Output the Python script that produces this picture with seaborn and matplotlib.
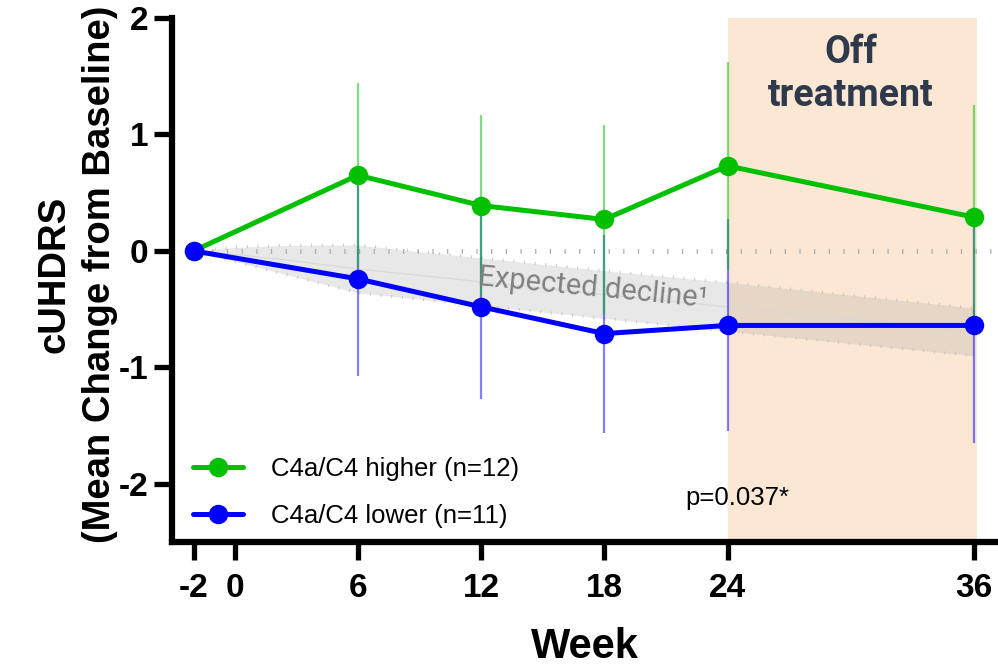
import numpy as np
import pandas as pd
import matplotlib
matplotlib.use("Agg")
import matplotlib.pyplot as plt
import seaborn as sns

# data
weeks = [-2, 6, 12, 18, 24, 36]
higher_mean = [0, 0.65, 0.39, 0.27, 0.73, 0.29]
higher_sem = [0, 0.79, 0.78, 0.81, 0.89, 0.96]
lower_mean = [0, -0.24, -0.48, -0.71, -0.64, -0.64]
lower_sem = [0, 0.83, 0.79, 0.85, 0.91, 1.01]
groups = ["C4a/C4 higher (n=12)", "C4a/C4 lower (n=11)"]

# expected decline band
decline_weeks = [-2, 0, 2, 4, 6, 12, 18, 24, 36]
decline_upper = [0, 0.03, 0.045, 0.05, 0.05, -0.06, -0.17, -0.27, -0.49]
decline_lower = [0, -0.09, -0.18, -0.27, -0.36, -0.47, -0.58, -0.69, -0.90]

xticks = [-2, 0, 6, 12, 18, 24, 36]
yticks = [-2, -1, 0, 1, 2]

df = pd.DataFrame({
    "week": weeks * 2,
    "mean": higher_mean + lower_mean,
    "sem": higher_sem + lower_sem,
    "group": [groups[0]] * len(weeks) + [groups[1]] * len(weeks),
})

sns.set_style("ticks", {"text.color": "black", "axes.labelcolor": "black",
                        "xtick.color": "black", "ytick.color": "black",
                        "axes.edgecolor": "black"})
plt.rcParams['font.family'] = ['Liberation Sans', 'DejaVu Sans']

green = "#00C000"
blue = "#0000FF"

fig = plt.figure(figsize=(9.98, 6.68), dpi=100)
ax = fig.add_axes([0.1723, 0.1886, 0.8277, 0.7844])

# off treatment shading
ax.axvspan(24, 36.15, color="#FBE7D3", zorder=0, lw=0)

# expected decline band
ax.fill_between(decline_weeks, decline_lower, decline_upper, color="#9a9a9a",
                alpha=0.22, lw=0, zorder=1)
mid = (np.array(decline_upper) + np.array(decline_lower)) / 2
ax.plot(decline_weeks, mid, color="#d8d8d8", lw=0.8, zorder=1)
for edge in (decline_upper, decline_lower):
    ax.plot(decline_weeks, edge, color="#c4c4c4", lw=2.2,
            ls=(0, (0.3, 3.2)), dash_capstyle="butt", zorder=1)

# zero reference line
ax.axhline(0, xmin=0.03, color="#aaaaaa", lw=3.5, ls=(0, (0.25, 2.77)),
           dash_capstyle="butt", zorder=1)

# error bars (blue first so the overlap turns teal)
for g, c in zip(groups[::-1], [blue, green]):
    sub = df[df["group"] == g]
    ax.errorbar(sub["week"], sub["mean"], yerr=sub["sem"], fmt="none",
                ecolor=c, alpha=0.5, elinewidth=1.6, capsize=0, zorder=2)

sns.lineplot(data=df, x="week", y="mean", hue="group", palette=[green, blue],
             marker="o", markersize=14, markeredgewidth=0, lw=3.6, ax=ax,
             zorder=3)

ax.set_xlim(-3.05, 37.17)
ax.set_ylim(-2.5, 2)
ax.set_xticks(xticks)
ax.set_yticks(yticks)
ax.set_xticklabels([str(t) for t in xticks])
ax.set_yticklabels([str(t) for t in yticks])

for s in ["top", "right"]:
    ax.spines[s].set_visible(False)
for s in ["left", "bottom"]:
    ax.spines[s].set_linewidth(4.5)
    ax.spines[s].set_color("black")
ax.tick_params(axis="both", length=13, width=3.8, color="black",
               labelcolor="black", labelsize=24)
ax.tick_params(axis="x", pad=9)
ax.tick_params(axis="y", pad=4)
for lab in ax.get_xticklabels() + ax.get_yticklabels():
    lab.set_fontweight("bold")

ax.set_xlabel("Week", fontsize=30, fontweight="bold", va="center")
ax.xaxis.set_label_coords(0.5, -0.2)
ax.set_ylabel("cUHDRS\n(Mean Change from Baseline)", fontsize=27.5,
              fontweight="bold", va="center", linespacing=1.35)
ax.yaxis.set_label_coords(-0.115, 0.51)

ax.text(30, 1.52, "Off\ntreatment", ha="center", va="center", fontsize=27,
        fontweight="bold", color="#2E3A4B", family=["Roboto", "DejaVu Sans"],
        linespacing=1.2, zorder=4)
ax.text(17.45, -0.32, "Expected decline\u00b9", ha="center", va="center",
        fontsize=21, color="#808080", rotation=-5.5,
        family=["Roboto", "DejaVu Sans"], zorder=4)
ax.text(24.5, -2.12, "p=0.037*", ha="center", va="center", fontsize=18.5,
        color="black", zorder=4)

leg = ax.legend(loc="lower left", bbox_to_anchor=(0.025, 0.027), frameon=False,
                fontsize=18.5, handlelength=1.95, handletextpad=1.1,
                labelspacing=0.9, borderpad=0, borderaxespad=0)

plt.savefig("out.png", dpi=100)
plt.close()
